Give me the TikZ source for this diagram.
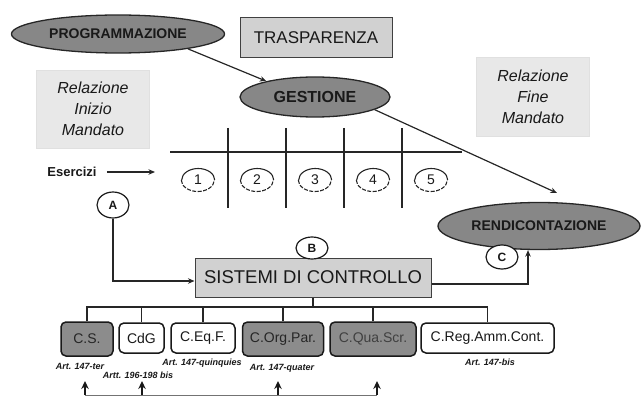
\documentclass[tikz,border=0pt]{standalone}
\usepackage{fontspec}
\setmainfont{Liberation Sans}
\usetikzlibrary{shapes.geometric,arrows.meta}
\begin{document}
\begin{tikzpicture}[x=1pt,y=-1pt,
  oval/.style={ellipse,draw=black!85,line width=1.3pt,fill=black!47,font=\bfseries\fontsize{14}{16}\selectfont,text=black!90,inner sep=0pt},
  graybox/.style={rectangle,draw=black!75,line width=1pt,fill=black!18,inner sep=0pt},
  notebox/.style={rectangle,draw=black!12,fill=black!9,inner sep=0pt,align=center,font=\itshape\fontsize{16}{21}\selectfont,text=black!90},
  numc/.style={ellipse,minimum width=33pt,minimum height=23pt,inner sep=0pt,font=\fontsize{14}{16}\selectfont,text=black!90},
  letc/.style={ellipse,draw=black!90,line width=1.2pt,fill=white,inner sep=0pt,font=\bfseries\fontsize{12}{14}\selectfont,text=black!90},
  ctrl/.style={rectangle,rounded corners=5pt,draw=black!90,line width=1.5pt,fill=white,inner sep=0pt,minimum height=30pt,font=\fontsize{14}{16}\selectfont,text=black!90},
  dark/.style={ctrl,fill=black!45,minimum height=34pt},
  artl/.style={font=\bfseries\itshape\fontsize{9}{10}\selectfont,inner sep=0pt,text=black!90},
  conn/.style={line width=1.2pt,draw=black!85},
  tip/.style={-{Stealth[length=6.5pt,width=5.5pt]}},
  bigtip/.style={-{Stealth[length=8pt,width=7.5pt]}},
]
\useasboundingbox (0,0) rectangle (641,396);

% main ovals and boxes
\node[oval,minimum width=213pt,minimum height=38pt] (prog) at (118,34) {PROGRAMMAZIONE};
\node[graybox,minimum width=152pt,minimum height=40pt,font=\fontsize{17}{20}\selectfont,text=black!90] (trasp) at (316,38) {TRASPARENZA};
\node[notebox,minimum width=113pt,minimum height=78pt] (rim) at (93,109) {Relazione\\Inizio\\Mandato};
\node[oval,minimum width=150pt,minimum height=40pt,font=\bfseries\fontsize{16}{18}\selectfont] (gest) at (315,97) {GESTIONE};
\node[notebox,minimum width=113pt,minimum height=79pt] (rfm) at (533,97) {Relazione\\Fine\\Mandato};
\node[oval,minimum width=202pt,minimum height=47pt] (rend) at (539,226) {RENDICONTAZIONE};

% grid of exercises
\draw[line width=1.6pt,black!85] (170,152) -- (462,152);
\foreach \x in {228,286,344,402} \draw[line width=1.6pt,black!85] (\x,128) -- (\x,208);
\foreach \i/\x in {1/198,2/257,3/315,4/373,5/431} {
  \node[numc] (n\i) at (\x,180) {\i};
  \draw[line width=1.1pt,black!85] (n\i.east) arc[start angle=0,end angle=180,x radius=16.5pt,y radius=11.5pt];
  \draw[line width=1.1pt,black!85,dash pattern=on 4pt off 1.5pt] (n\i.west) arc[start angle=180,end angle=360,x radius=16.5pt,y radius=11.5pt];
}

% Esercizi
\node[font=\bfseries\fontsize{13}{15}\selectfont,inner sep=0pt,text=black!90] (eser) at (72,172) {Esercizi};
\coordinate (eserend) at (155,172);
\draw[conn,tip] ([xshift=10pt]eser.east) -- (eserend);

% sistemi di controllo
\node[graybox,minimum width=236pt,minimum height=39pt,font=\fontsize{18.5}{20}\selectfont,text=black!90] (sis) at (313,277.5) {SISTEMI DI CONTROLLO};

% letters
\node[letc,minimum width=32pt,minimum height=26pt] (A) at (113,205) {A};
\node[letc,minimum width=32pt,minimum height=22pt] (B) at (312,248) {B};
\node[letc,minimum width=32pt,minimum height=24pt] (C) at (502,257) {C};

% connectors
\coordinate (rendtop) at (557,193);
\draw[conn,tip] (prog.-12) -- (gest.162);
\draw[conn,tip] (gest.-12) -- (rendtop);
\draw[conn,tip] (A.south) |- ([yshift=-3.5pt]sis.west);
\draw[conn,tip] ([yshift=-6.5pt]sis.east) -| ([xshift=-11pt]rend.south);

% control boxes
\node[dark,minimum width=52pt,text=black!85] (cs) at (87,339) {C.S.};
\node[ctrl,minimum width=45pt] (cdg) at (141.5,338) {CdG};
\node[ctrl,minimum width=64pt] (ceqf) at (203,338) {C.Eq.F.};
\node[dark,minimum width=81pt,text=black!85] (corg) at (283,339) {C.Org.Par.};
\node[dark,minimum width=86pt,text=black!75] (cqua) at (373,339) {C.Qua.Scr.};
\node[ctrl,minimum width=133pt] (creg) at (487.5,338) {C.Reg.Amm.Cont.};

\coordinate (bus) at (313,307);
\draw[conn] (sis.south) -- (bus);
\foreach \b in {cs,cdg,ceqf,corg,cqua,creg} \draw[conn] (\b.north) |- (bus);

% article labels
\node[artl] (l1) at (80,366) {Art. 147-ter};
\node[artl] (l2) at (138,375) {Artt. 196-198 bis};
\node[artl] (l3) at (202,363) {Art. 147-quinquies};
\node[artl] (l4) at (282,368) {Art. 147-quater};
\node[artl] (l5) at (490,362) {Art. 147-bis};

% bottom arrows
\foreach \i/\x in {1/85,2/142,3/278,4/377} {
  \coordinate (b\i) at (\x,395);
  \coordinate (t\i) at (\x,381);
}
\draw[line width=0.9pt,black!55] (b1) -- (b4);
\foreach \i in {1,...,4} \draw[line width=1.8pt,black!90,bigtip] (b\i) -- (t\i);
\end{tikzpicture}
\end{document}
